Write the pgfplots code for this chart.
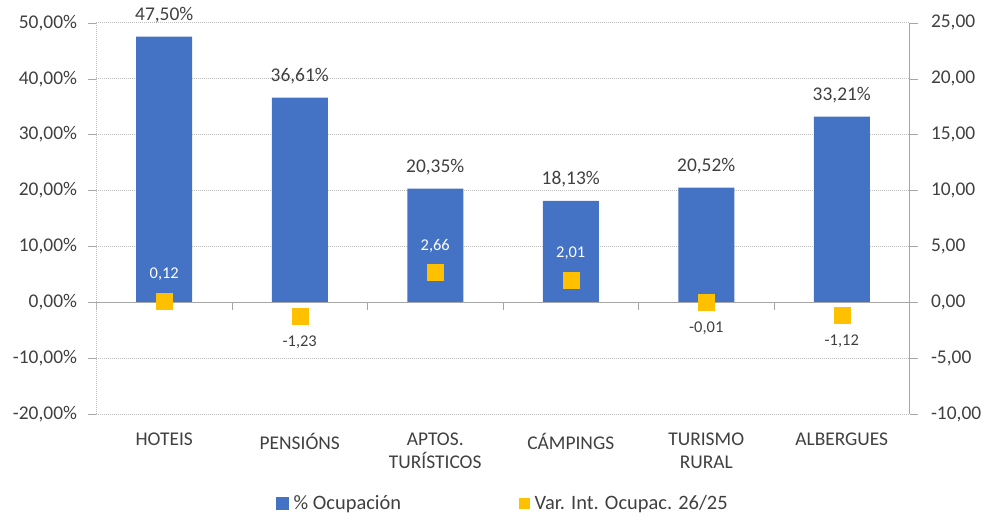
\documentclass[border=0pt]{standalone}
\usepackage{fontspec}
\setmainfont{Carlito}
\usepackage{pgfplots}
\usepackage{pgfplotstable}
\pgfplotsset{compat=1.18}

\definecolor{barblue}{HTML}{4472C4}
\definecolor{sqyellow}{HTML}{FFC000}
\definecolor{txt}{HTML}{404040}
\definecolor{axgray}{HTML}{A6A6A6}
\definecolor{gridgray}{HTML}{BFBFBF}

% occupancy (%), left axis
\pgfplotstableread{
x occ
0 47.50
1 36.61
2 20.35
3 18.13
4 20.52
5 33.21
}\occtable
% interannual variation, right axis (split by sign for label placement)
\pgfplotstableread{
x var
0 0.12
2 2.66
3 2.01
}\varpos
\pgfplotstableread{
x var
1 -1.23
4 -0.01
5 -1.12
}\varneg

\pgfkeys{/pgf/number format/assume math mode=true}
\pgfplotsset{
  common/.style={
    width=813bp, height=391.6bp, scale only axis,
    xmin=-0.5, xmax=5.5,
    tick align=outside, major tick length=8bp,
    ticklabel style={text=txt},
    tick style={axgray},
  },
}

\begin{document}
\begin{tikzpicture}[font=\fontsize{19.5}{23}\selectfont]
\useasboundingbox (-96.5bp,-98.7bp) rectangle (885.5bp,414.3bp);
\begin{axis}[
    common,
    ymin=-20, ymax=50,
    ytick={-20,-10,...,50},
    yticklabel={\pgfmathprintnumber[fixed,fixed zerofill,precision=2,use comma]{\tick}\%},
    yticklabel style={xshift=-8bp},
    axis x line*=bottom,
    axis y line*=left,
    x axis line style={draw=none},
    y axis line style={gridgray, dash pattern=on 1bp off 1bp},
    ymajorgrids,
    grid style={gridgray, dash pattern=on 1bp off 1bp},
    xtick={0,...,5},
    xtick style={draw=none},
    xticklabels={HOTEIS, PENSIÓNS, {APTOS.\\TURÍSTICOS}, CÁMPINGS, {TURISMO\\RURAL}, ALBERGUES},
    xticklabel style={align=center, yshift=-7bp},
]
\addplot[ybar, bar width=56bp, fill=barblue, draw=none,
    nodes near coords={\pgfmathprintnumber[fixed,fixed zerofill,precision=2,use comma]{\pgfplotspointmeta}\%},
    nodes near coords style={text=txt, anchor=south, yshift=10bp}]
    table[x=x, y=occ] {\occtable};
\draw[axgray] (axis cs:-0.5,0) -- (axis cs:5.5,0);
\pgfplotsinvokeforeach{-0.5,0.5,1.5,2.5,3.5,4.5,5.5}{
  \draw[axgray] (axis cs:#1,0) -- ++(0pt,-8bp);
}
\end{axis}

\begin{axis}[
    common,
    ymin=-10, ymax=25,
    ytick={-10,-5,...,25},
    yticklabel={\pgfmathprintnumber[fixed,fixed zerofill,precision=2,use comma]{\tick}},
    yticklabel style={xshift=10bp},
    axis y line*=right,
    axis x line=none,
    y axis line style={axgray},
    legend style={at={(0.5,-0.227)}, anchor=center, draw=none, fill=none,
      legend columns=2, text=txt, font=\fontsize{20.5}{24}\selectfont,
      /tikz/every odd column/.append style={column sep=3bp},
      /tikz/every even column/.append style={column sep=116bp}},
]
\addlegendimage{legend image code/.code={\fill[barblue] (0bp,-6bp) rectangle (12bp,6bp);}}
\addlegendentry{\% Ocupación}
\addplot[only marks, mark=square*, mark size=8bp,
    mark options={fill=sqyellow, draw=sqyellow},
    legend image code/.code={\fill[sqyellow] (0bp,-5bp) rectangle (10bp,5bp);},
    nodes near coords={\pgfmathprintnumber[fixed,fixed zerofill,precision=2,use comma]{\pgfplotspointmeta}},
    nodes near coords style={text=white, font=\fontsize{16.5}{19}\selectfont, anchor=south, yshift=17bp}]
    table[x=x, y=var] {\varpos};
\addlegendentry{Var. Int. Ocupac. 26/25}
\addplot[only marks, mark=square*, mark size=8bp, forget plot,
    mark options={fill=sqyellow, draw=sqyellow},
    nodes near coords={\pgfmathprintnumber[fixed,fixed zerofill,precision=2,use comma]{\pgfplotspointmeta}},
    nodes near coords style={text=txt, font=\fontsize{16.5}{19}\selectfont, anchor=north, yshift=-16bp}]
    table[x=x, y=var] {\varneg};
\end{axis}
\end{tikzpicture}
\end{document}
